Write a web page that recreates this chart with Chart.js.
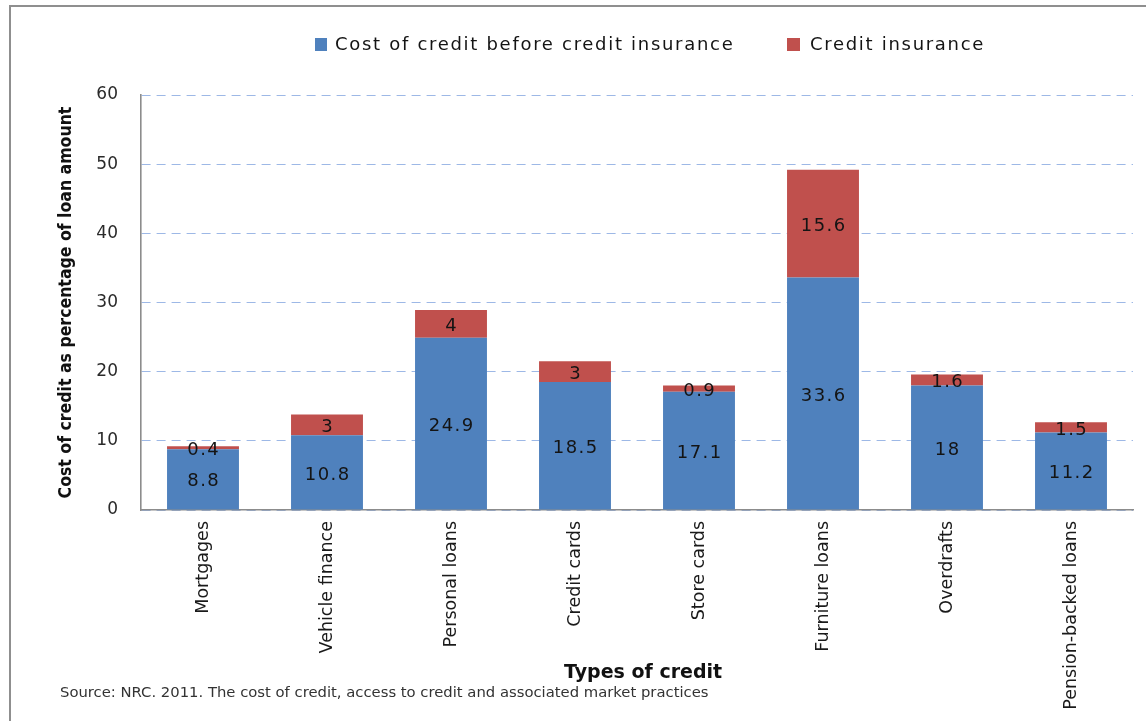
<!DOCTYPE html>
<html>
<head>
<meta charset="utf-8">
<script src="https://cdn.jsdelivr.net/npm/chart.js@4/dist/chart.umd.min.js"></script>
<style>
html,body{margin:0;padding:0;background:#fff;}
#wrap{position:relative;width:1146px;height:721px;overflow:hidden;font-family:"DejaVu Sans",Verdana,sans-serif;background:#fff;}
#frame{position:absolute;left:9px;top:5px;right:-10px;bottom:-10px;border-left:2px solid #8f8f8f;border-top:2px solid #8f8f8f;pointer-events:none;}
#box{position:absolute;left:0;top:0;width:1146px;height:721px;}
.leg{position:absolute;top:33px;height:22px;line-height:22px;display:flex;align-items:center;font-size:18px;letter-spacing:1.7px;color:#141414;white-space:nowrap;}
.sw{display:inline-block;width:12px;height:13px;margin-right:8px;}
#xt{position:absolute;left:564px;top:660px;line-height:22px;font-size:19px;font-weight:bold;color:#111;white-space:nowrap;}
#src{position:absolute;left:60px;top:683px;line-height:17px;font-size:14.8px;color:#333;white-space:nowrap;}
</style>
</head>
<body>
<div id="wrap">
  <div id="box"><canvas id="cv"></canvas></div>
  <div id="frame"></div>
  <div class="leg" id="leg0" style="left:315px;"><span class="sw" id="sw0"></span><span id="lt0"></span></div>
  <div class="leg" id="leg1" style="left:787px;"><span class="sw" id="sw1" style="width:13px;margin-right:10px;"></span><span id="lt1"></span></div>
  <div id="xt"></div>
  <div id="src"></div>
</div>
<script>
const categories = ["Mortgages", "Vehicle finance", "Personal loans", "Credit cards", "Store cards", "Furniture loans", "Overdrafts", "Pension-backed loans"];
const costBeforeInsurance = [8.8, 10.8, 24.9, 18.5, 17.1, 33.6, 18, 11.2];
const creditInsurance = [0.4, 3, 4, 3, 0.9, 15.6, 1.6, 1.5];
const seriesNames = ["Cost of credit before credit insurance", "Credit insurance"];
const seriesColors = ["#4F81BD", "#C0504D"];
const yTicks = [0, 10, 20, 30, 40, 50, 60];
const yAxisTitle = "Cost of credit as percentage of loan amount";
const xAxisTitle = "Types of credit";
const sourceNote = "Source: NRC. 2011. The cost of credit, access to credit and associated market practices";

document.getElementById('lt0').textContent = seriesNames[0];
document.getElementById('lt1').textContent = seriesNames[1];
document.getElementById('sw0').style.background = seriesColors[0];
document.getElementById('sw1').style.background = seriesColors[1];
document.getElementById('xt').textContent = xAxisTitle;
document.getElementById('src').textContent = sourceNote;

const segmentLabels = {
  id: 'segmentLabels',
  afterDatasetsDraw(chart) {
    const ctx = chart.ctx;
    ctx.save();
    ctx.font = '18px "DejaVu Sans"';
    ctx.fillStyle = '#141414';
    ctx.textAlign = 'center';
    ctx.textBaseline = 'middle';
    if ('letterSpacing' in ctx) ctx.letterSpacing = '1.5px';
    chart.data.datasets.forEach((ds, i) => {
      const meta = chart.getDatasetMeta(i);
      meta.data.forEach((bar, j) => {
        const p = bar.getProps(['x', 'y', 'base'], true);
        ctx.fillText(String(ds.data[j]), p.x + 0.75, (p.y + p.base) / 2 + 2.5);
      });
    });
    ctx.restore();
  }
};

new Chart(document.getElementById('cv'), {
  type: 'bar',
  data: {
    labels: categories,
    datasets: [
      { label: seriesNames[0], data: costBeforeInsurance, backgroundColor: seriesColors[0], barPercentage: 0.58, categoryPercentage: 1.0 },
      { label: seriesNames[1], data: creditInsurance, backgroundColor: seriesColors[1], barPercentage: 0.58, categoryPercentage: 1.0 }
    ]
  },
  options: {
    responsive: true,
    maintainAspectRatio: false,
    animation: false,
    layout: { padding: { top: 95, right: 13, left: 0, bottom: 0 } },
    plugins: { legend: { display: false }, tooltip: { enabled: false } },
    scales: {
      x: {
        stacked: true,
        grid: { display: false, drawTicks: false },
        border: { color: '#8c8c8c', width: 1.6 },
        ticks: { autoSkip: false, minRotation: 90, maxRotation: 90, padding: 11, color: '#1a1a1a',
                 font: { family: '"DejaVu Sans", Verdana, sans-serif', size: 17.5 } },
        afterFit: s => { s.height = 211; }
      },
      y: {
        stacked: true,
        min: 0, max: 60,
        afterBuildTicks: s => { s.ticks = yTicks.map(v => ({ value: v })); },
        ticks: { padding: 23, color: '#2a2a2a', font: { family: '"DejaVu Sans", Verdana, sans-serif', size: 17 } },
        grid: { color: '#9DB8E6', lineWidth: 1, drawTicks: false },
        border: { color: '#8c8c8c', width: 1.6, dash: [9, 6] },
        title: { display: true, text: yAxisTitle, color: '#111',
                 font: { family: '"DejaVu Sans Condensed", "Liberation Sans Narrow", "DejaVu Sans", sans-serif', size: 17.5, weight: 'bold' },
                 padding: { top: 56, bottom: 0 } },
        afterFit: s => { s.width = 141; }
      }
    }
  },
  plugins: [segmentLabels]
});
</script>
</body>
</html>
